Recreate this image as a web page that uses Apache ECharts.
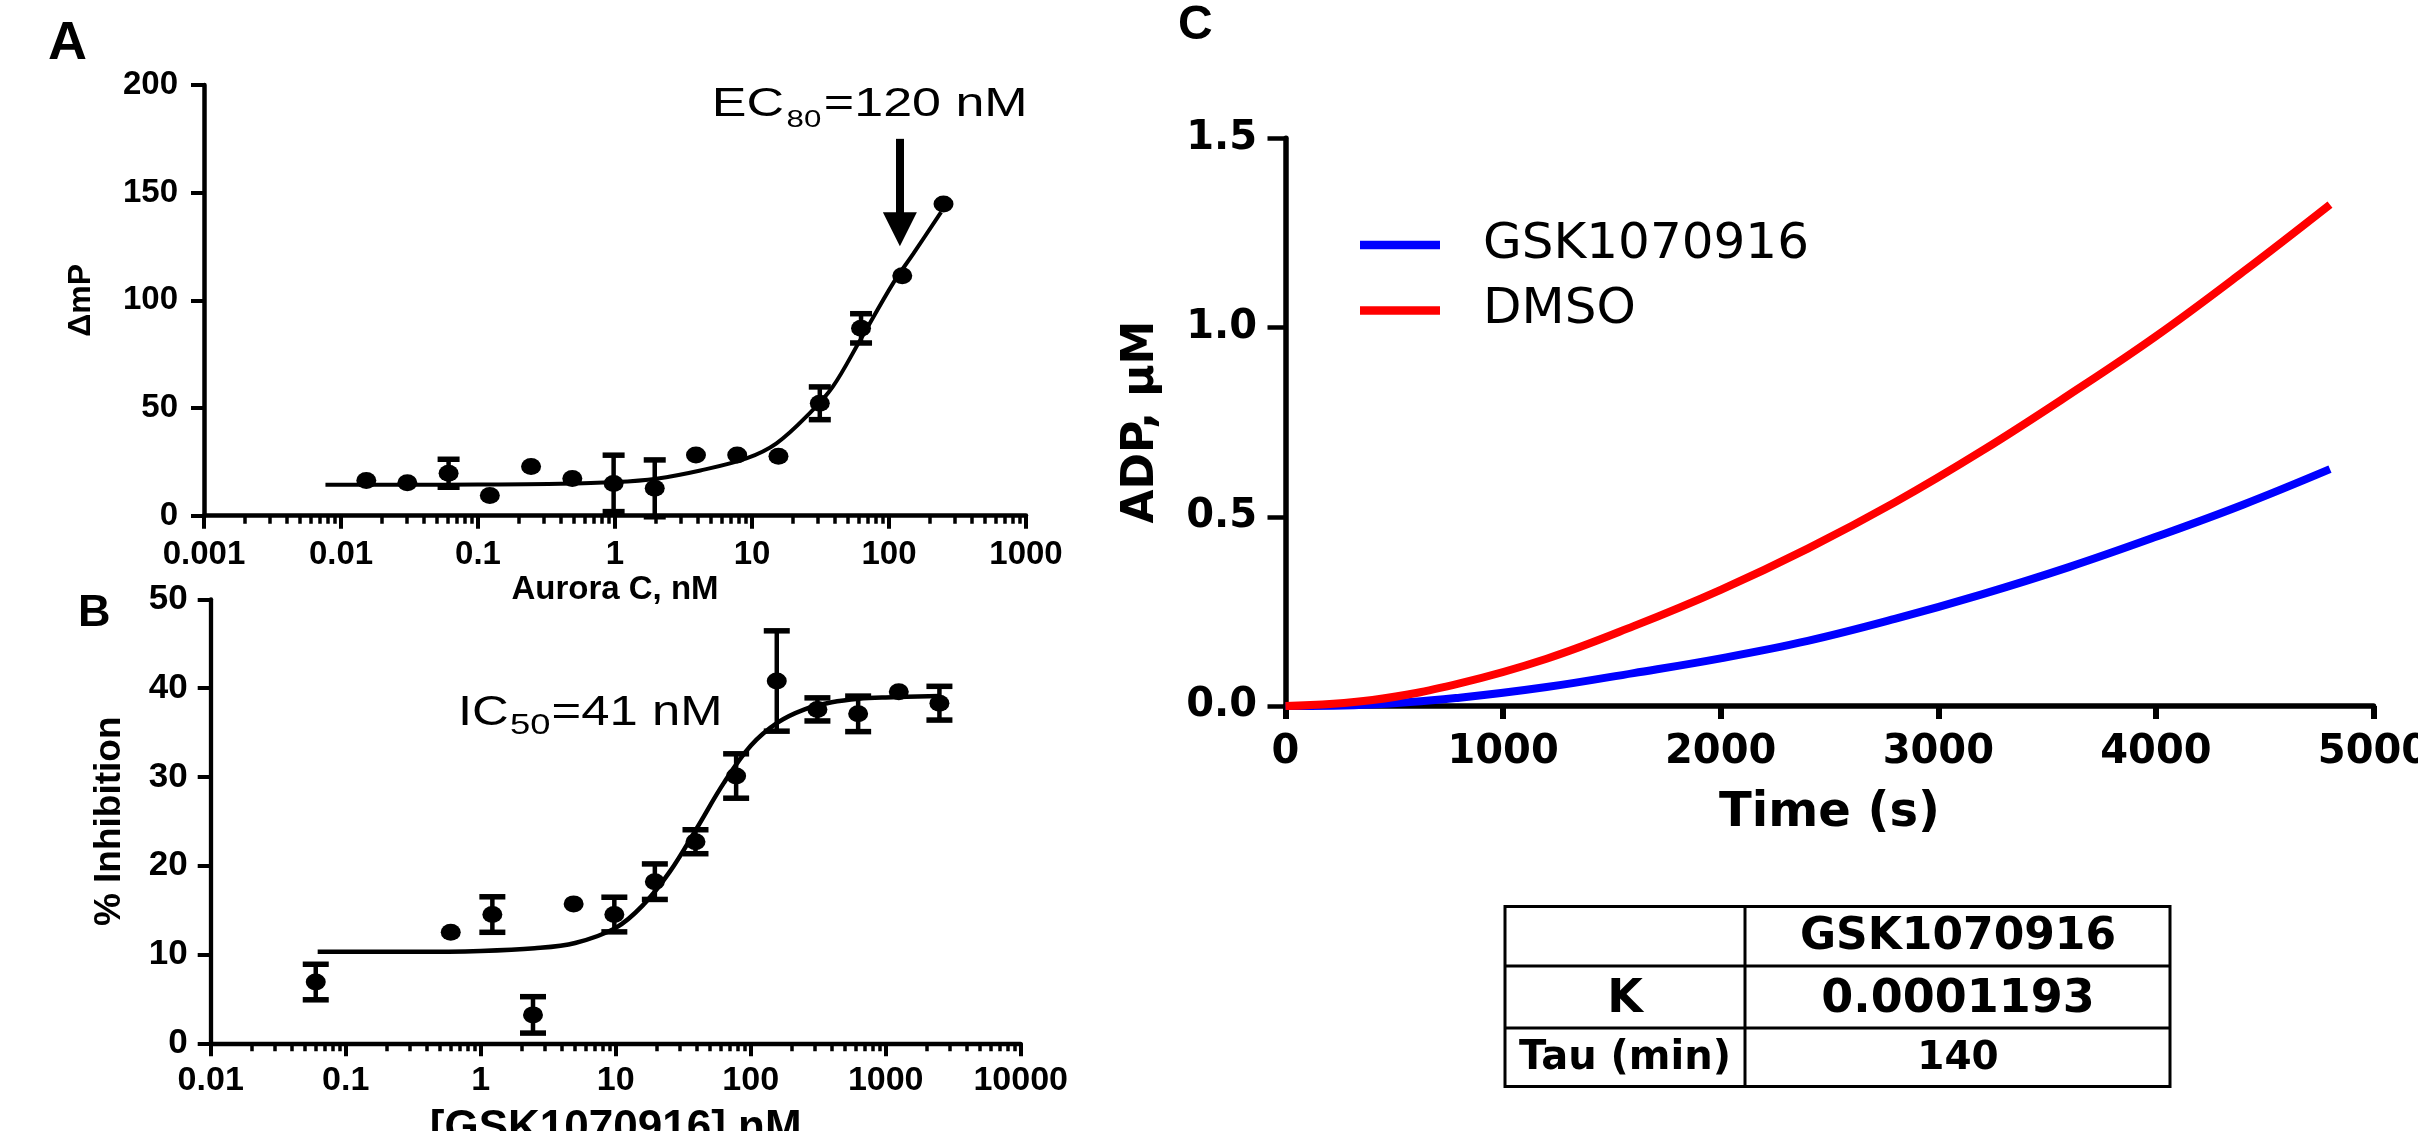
<!DOCTYPE html>
<html>
<head>
<meta charset="utf-8">
<title>Aurora C titration, GSK1070916 inhibition and ADP progress curves</title>
<script src="https://cdn.jsdelivr.net/npm/echarts@6/dist/echarts.min.js"></script>
<style>
  html, body { margin: 0; padding: 0; background: #fff; }
  #chart { width: 2418px; height: 1131px; }
</style>
</head>
<body>
<div id="chart"></div>
<script>
// ---------- Panel A: Aurora C enzyme titration (delta mP) ----------
const auroraConc = [0.0153, 0.0305, 0.061, 0.122, 0.244, 0.488, 0.977, 1.95, 3.9, 7.8, 15.6, 31.25, 62.5, 125, 250];
const auroraMP = [16.3, 15.3, 19.7, 9.4, 22.8, 17.3, 15.0, 12.7, 28.2, 28.2, 27.6, 52.2, 87.0, 111.4, 144.7];
const auroraErr = [0, 0, 6.5, 0, 0, 0, 13.1, 13.2, 0, 0, 0, 7.6, 6.8, 0, 0];
const auroraFitConc = [0.0077, 0.03, 0.1, 0.4, 1.0, 2.0, 4.2, 9.1, 15.1, 26.3, 38.9, 61.7, 107, 151, 240];
const auroraFitMP = [14.4, 14.4, 14.5, 14.8, 15.6, 17.2, 21.0, 26.6, 33.6, 47.5, 59.9, 81.6, 107.9, 121.8, 141];
const auroraTicks = [0.001, 0.01, 0.1, 1, 10, 100, 1000];
const auroraTickLabels = ['0.001', '0.01', '0.1', '1', '10', '100', '1000'];
const ec80 = 120;               // nM, arrow position
const ec80ArrowMP = [175, 133]; // arrow shaft start / head centre (mP)

// ---------- Panel B: GSK1070916 dose response (% inhibition) ----------
const gskConc = [0.06, 0.6, 1.22, 2.44, 4.88, 9.77, 19.5, 39, 78, 156, 312, 625, 1250, 2500];
const gskInhib = [6.9, 12.5, 14.5, 3.2, 15.7, 14.5, 18.2, 22.7, 30.1, 40.8, 37.6, 37.1, 39.6, 38.3];
const gskErr = [2.0, 0, 2.0, 2.05, 0, 1.95, 2.0, 1.35, 2.5, 5.65, 1.3, 2.0, 0, 1.9];
const gskFitConc = [0.062, 0.316, 1, 2.51, 5.01, 10, 15.8, 25.1, 39.8, 63.1, 100, 158, 251, 398, 631, 1000, 2512];
const gskFitInhib = [10.3, 10.3, 10.4, 10.7, 11.3, 13.0, 15.5, 19.3, 24.2, 29.3, 33.5, 36.1, 37.6, 38.4, 38.8, 38.95, 39.1];
const gskTicks = [0.01, 0.1, 1, 10, 100, 1000, 10000];
const gskTickLabels = ['0.01', '0.1', '1', '10', '100', '1000', '10000'];

// ---------- Panel C: ADP progress curves ----------
const timeS = [0, 400, 800, 1200, 1600, 2000, 2400, 2800, 3200, 3600, 4000, 4400, 4800];
const adpGSK = [0, 0.004, 0.022, 0.050, 0.087, 0.126, 0.172, 0.230, 0.295, 0.367, 0.447, 0.532, 0.626];
const adpDMSO = [0, 0.016, 0.060, 0.125, 0.211, 0.307, 0.416, 0.538, 0.674, 0.822, 0.977, 1.147, 1.325];

// ---------- Fit parameters table ----------
const tableHeader = ['', 'GSK1070916'];
const tableRows = [['K', '0.0001193'], ['Tau (min)', '140']];

// ---------- helpers ----------
const ARIAL = "'Liberation Sans', Arial, Helvetica, sans-serif";
const DEJAVU = "'DejaVu Sans', Verdana, sans-serif";
const zip = (xs, ys) => xs.map((x, i) => [x, ys[i]]);
const withErr = (xs, ys, es) => xs.map((x, i) => [x, ys[i], es[i]]).filter(d => d[2] > 0);

function minorTicks(loExp, hiExp) {
  const out = [];
  for (let d = loExp; d < hiExp; d++) {
    for (let m = 2; m <= 9; m++) out.push(+(m * Math.pow(10, d)).toPrecision(3));
  }
  return out;
}

function tickLabeler(ticks, labels) {
  return function (v) {
    const i = ticks.findIndex(t => Math.abs(Math.log10(t) - Math.log10(v)) < 1e-6);
    return i >= 0 ? labels[i] : '';
  };
}

function errorBarRenderer(capHalf) {
  return function (params, api) {
    const x = api.value(0), y = api.value(1), e = api.value(2);
    const lo = api.coord([x, y - e]);
    const hi = api.coord([x, y + e]);
    const bar = { stroke: '#000', lineWidth: 4.5 };
    const cap = { stroke: '#000', lineWidth: 5.5 };
    return {
      type: 'group',
      children: [
        { type: 'line', shape: { x1: lo[0], y1: lo[1], x2: hi[0], y2: hi[1] }, style: bar },
        { type: 'line', shape: { x1: lo[0] - capHalf, y1: lo[1], x2: lo[0] + capHalf, y2: lo[1] }, style: cap },
        { type: 'line', shape: { x1: hi[0] - capHalf, y1: hi[1], x2: hi[0] + capHalf, y2: hi[1] }, style: cap }
      ]
    };
  };
}

function logAxisPair(gridIndex, ticks, labels, minors, opts) {
  const min = ticks[0], max = ticks[ticks.length - 1];
  return [
    {
      type: 'log', logBase: 10, gridIndex, min, max, position: 'bottom',
      axisLine: { show: true, lineStyle: { color: '#000', width: opts.lineWidth } },
      axisTick: { show: true, customValues: ticks, length: 13, lineStyle: { color: '#000', width: 4 } },
      axisLabel: {
        customValues: ticks, formatter: tickLabeler(ticks, labels),
        margin: opts.labelMargin, color: '#000', fontFamily: ARIAL, fontWeight: 'bold', fontSize: opts.labelSize
      },
      splitLine: { show: false },
      name: opts.name, nameLocation: 'middle', nameGap: opts.nameGap,
      nameTextStyle: { color: '#000', fontFamily: ARIAL, fontWeight: 'bold', fontSize: opts.nameSize }
    },
    {
      type: 'log', logBase: 10, gridIndex, min, max, position: 'bottom',
      axisLine: { show: false },
      axisTick: { show: true, customValues: minors, length: 8, lineStyle: { color: '#000', width: 3.5 } },
      axisLabel: { show: false },
      splitLine: { show: false }
    }
  ];
}

function buildGraphics() {
  const g = [];
  // panel letters
  const letters = [['A', 48, 44.5, 54], ['B', 78, 614, 45], ['C', 1178, 25.5, 48]];
  letters.forEach(([t, x, y, s]) => g.push({
    type: 'text', x, y, silent: true,
    style: { text: t, font: `bold ${s}px ${ARIAL}`, fill: '#000', align: 'left', verticalAlign: 'middle' }
  }));

  // EC80 annotation above the arrow
  g.push({
    type: 'text', x: 711.7, y: 85.3, scaleX: 1.3, silent: true,
    style: {
      text: '{m|EC}{s|80}{m|=120 nM}', align: 'left', verticalAlign: 'top', fill: '#000',
      rich: {
        m: { fontFamily: ARIAL, fontSize: 40, lineHeight: 40, verticalAlign: 'top', fill: '#000' },
        s: { fontFamily: ARIAL, fontSize: 24, lineHeight: 24, verticalAlign: 'top', padding: [22.6, 2, 0, 2], fill: '#000' }
      }
    }
  });

  // IC50 annotation
  g.push({
    type: 'text', x: 458, y: 692.6, scaleX: 1.21, silent: true,
    style: {
      text: '{m|IC}{s|50}{m|=41 nM}', align: 'left', verticalAlign: 'top', fill: '#000',
      rich: {
        m: { fontFamily: ARIAL, fontSize: 42, lineHeight: 42, verticalAlign: 'top', fill: '#000' },
        s: { fontFamily: ARIAL, fontSize: 30, lineHeight: 30, verticalAlign: 'top', padding: [18.6, 1, 0, 1], fill: '#000' }
      }
    }
  });

  // fit parameter table
  const L = 1505, R = 2170, M = 1745, T = 906.5, B = 1086.5, rowLines = [966, 1028];
  const colCenters = [1625, 1958];
  const rowCenters = [938, 1000, 1059];
  const cellFont = [[40, 44], [46, 46], [40, 39]];
  const border = { stroke: '#000', lineWidth: 3, fill: null };
  const table = [
    { type: 'rect', shape: { x: L, y: T, width: R - L, height: B - T }, style: { stroke: '#000', lineWidth: 3, fill: 'none' } },
    { type: 'line', shape: { x1: M, y1: T, x2: M, y2: B }, style: border }
  ];
  rowLines.forEach(y => table.push({ type: 'line', shape: { x1: L, y1: y, x2: R, y2: y }, style: border }));
  const cells = [tableHeader, ...tableRows];
  cells.forEach((row, r) => row.forEach((txt, c) => {
    if (!txt) return;
    table.push({
      type: 'text', x: colCenters[c], y: rowCenters[r],
      style: { text: txt, font: `bold ${cellFont[r][c]}px ${DEJAVU}`, fill: '#000', align: 'center', verticalAlign: 'middle' }
    });
  }));
  g.push({ type: 'group', silent: true, children: table });
  return g;
}

const chart = echarts.init(document.getElementById('chart'), null, { renderer: 'canvas' });

const option = {
  backgroundColor: '#fff',
  animation: false,
  grid: [
    { left: 204, top: 85, width: 822, height: 430.7, outerBoundsMode: 'none', containLabel: false },
    { left: 210.7, top: 599.3, width: 810, height: 444, outerBoundsMode: 'none', containLabel: false },
    { left: 1285.5, top: 138.3, width: 1088, height: 567.7, outerBoundsMode: 'none', containLabel: false }
  ],
  legend: {
    data: ['GSK1070916', 'DMSO'],
    orient: 'vertical',
    left: 1360, top: 220,
    padding: 0,
    itemWidth: 80, itemHeight: 8.5, itemGap: 15.5,
    icon: 'rect',
    itemStyle: { borderWidth: 0 },
    textStyle: { fontFamily: DEJAVU, fontSize: 50, color: '#000', padding: [0, 0, 0, 38] },
    selectedMode: false
  },
  xAxis: [
    ...logAxisPair(0, auroraTicks, auroraTickLabels, minorTicks(-3, 3), {
      lineWidth: 4.5, labelMargin: 23, labelSize: 33, name: 'Aurora C, nM', nameGap: 57.5, nameSize: 33
    }),
    ...logAxisPair(1, gskTicks, gskTickLabels, minorTicks(-2, 4), {
      lineWidth: 4.3, labelMargin: 20, labelSize: 34, name: '[GSK1070916] nM', nameGap: 64, nameSize: 44
    }),
    {
      type: 'value', gridIndex: 2, min: 0, max: 5000, interval: 1000, position: 'bottom',
      axisLine: { show: true, lineStyle: { color: '#000', width: 5.5 } },
      axisTick: { show: true, length: 13, lineStyle: { color: '#000', width: 6 } },
      axisLabel: { margin: 27, color: '#000', fontFamily: DEJAVU, fontWeight: 'bold', fontSize: 40,
                   formatter: v => String(v) },
      splitLine: { show: false },
      name: 'Time (s)', nameLocation: 'middle', nameGap: 84,
      nameTextStyle: { color: '#000', fontFamily: DEJAVU, fontWeight: 'bold', fontSize: 48 }
    }
  ],
  yAxis: [
    {
      type: 'value', gridIndex: 0, min: 0, max: 200, interval: 50,
      axisLine: { show: true, lineStyle: { color: '#000', width: 4.5 } },
      axisTick: { show: true, length: 13, lineStyle: { color: '#000', width: 4 } },
      axisLabel: { margin: 26, color: '#000', fontFamily: ARIAL, fontWeight: 'bold', fontSize: 33 },
      splitLine: { show: false },
      name: 'ΔmP', nameLocation: 'middle', nameGap: 106.5,
      nameTextStyle: { color: '#000', fontFamily: ARIAL, fontWeight: 'bold', fontSize: 32 }
    },
    {
      type: 'value', gridIndex: 1, min: 0, max: 50, interval: 10,
      axisLine: { show: true, lineStyle: { color: '#000', width: 4.3 } },
      axisTick: { show: true, length: 13, lineStyle: { color: '#000', width: 4 } },
      axisLabel: { margin: 23, color: '#000', fontFamily: ARIAL, fontWeight: 'bold', fontSize: 35 },
      splitLine: { show: false },
      name: '% Inhibition', nameLocation: 'middle', nameGap: 82,
      nameTextStyle: { color: '#000', fontFamily: ARIAL, fontWeight: 'bold', fontSize: 37 }
    },
    {
      type: 'value', gridIndex: 2, min: 0, max: 1.5, interval: 0.5,
      axisLine: { show: true, lineStyle: { color: '#000', width: 5.5 } },
      axisTick: { show: true, length: 18, lineStyle: { color: '#000', width: 4.5 } },
      axisLabel: { margin: 28.5, color: '#000', fontFamily: DEJAVU, fontWeight: 'bold', fontSize: 40,
                   formatter: v => v.toFixed(1) },
      splitLine: { show: false },
      name: 'ADP, µM', nameLocation: 'middle', nameGap: 122,
      nameTextStyle: { color: '#000', fontFamily: DEJAVU, fontWeight: 'bold', fontSize: 44 }
    }
  ],
  series: [
    // Panel A
    {
      name: 'Aurora C fit', type: 'line', xAxisIndex: 0, yAxisIndex: 0,
      data: zip(auroraFitConc, auroraFitMP), smooth: 0.35,
      showSymbol: false, silent: true, lineStyle: { color: '#000', width: 4 }
    },
    {
      name: 'Aurora C error', type: 'custom', xAxisIndex: 0, yAxisIndex: 0,
      renderItem: errorBarRenderer(11), data: withErr(auroraConc, auroraMP, auroraErr), silent: true
    },
    {
      name: 'Aurora C', type: 'scatter', xAxisIndex: 0, yAxisIndex: 0,
      data: zip(auroraConc, auroraMP), symbol: 'circle', symbolSize: [20, 17],
      itemStyle: { color: '#000', opacity: 1 }, silent: true,
      markLine: {
        silent: true, symbol: ['none', 'triangle'], symbolSize: 34,
        lineStyle: { color: '#000', width: 8, type: 'solid', opacity: 1 },
        itemStyle: { color: '#000' },
        label: { show: false }, emphasis: { disabled: true },
        data: [[{ coord: [ec80, ec80ArrowMP[0]] }, { coord: [ec80, ec80ArrowMP[1]] }]]
      }
    },
    // Panel B
    {
      name: 'GSK1070916 fit', type: 'line', xAxisIndex: 2, yAxisIndex: 1,
      data: zip(gskFitConc, gskFitInhib), smooth: 0.35,
      showSymbol: false, silent: true, lineStyle: { color: '#000', width: 4.5 }
    },
    {
      name: 'GSK1070916 error', type: 'custom', xAxisIndex: 2, yAxisIndex: 1,
      renderItem: errorBarRenderer(13), data: withErr(gskConc, gskInhib, gskErr), silent: true
    },
    {
      name: 'GSK1070916 inhibition', type: 'scatter', xAxisIndex: 2, yAxisIndex: 1,
      data: zip(gskConc, gskInhib), symbol: 'circle', symbolSize: [20, 17],
      itemStyle: { color: '#000', opacity: 1 }, silent: true
    },
    // Panel C
    {
      name: 'GSK1070916', type: 'line', xAxisIndex: 4, yAxisIndex: 2,
      data: zip(timeS, adpGSK), smooth: 0.4, showSymbol: false,
      color: '#0000ff', lineStyle: { color: '#0000ff', width: 8 }, silent: true
    },
    {
      name: 'DMSO', type: 'line', xAxisIndex: 4, yAxisIndex: 2,
      data: zip(timeS, adpDMSO), smooth: 0.4, showSymbol: false,
      color: '#ff0000', lineStyle: { color: '#ff0000', width: 8 }, silent: true
    }
  ],
  graphic: buildGraphics()
};

chart.setOption(option);
</script>
</body>
</html>
